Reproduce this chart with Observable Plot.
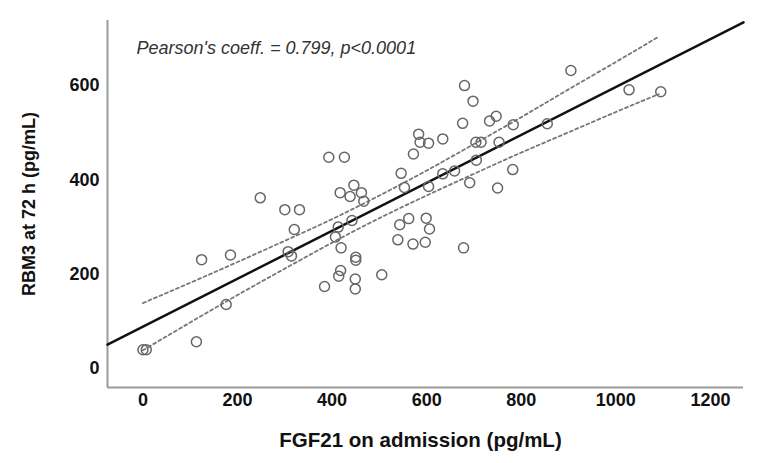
<!DOCTYPE html>
<html>
<head>
<meta charset="utf-8">
<script src="https://cdn.jsdelivr.net/npm/d3@7"></script>
<script src="https://cdn.jsdelivr.net/npm/@observablehq/plot@0.6"></script>
<style>
  html, body { margin: 0; padding: 0; background: #fff; }
</style>
</head>
<body>
<div id="chart"></div>
<script>
// Scatter data: FGF21 on admission (x) vs RBM3 at 72 h (y)
const fgf21 = [0, 7, 113, 176, 124, 185, 248, 300, 331, 320, 307, 314, 393, 426, 417, 438, 446, 462, 467, 413,
  442, 407, 419, 450, 450, 418, 414, 384, 449, 449, 505, 546, 553, 572, 583, 586, 604, 634, 543, 562,
  599, 606, 539, 571, 597, 678, 604, 634, 659, 691, 705, 704, 715, 753, 750, 782, 676, 680, 698, 733,
  747, 783, 855, 905, 1028, 1095];
const rbm3 = [40, 40, 57, 136, 231, 241, 362, 337, 337, 295, 248, 239, 448, 448, 373, 365, 389, 373, 355, 300,
  314, 279, 256, 236, 230, 208, 196, 174, 190, 169, 199, 414, 384, 455, 497, 480, 478, 487, 305, 318,
  319, 296, 273, 264, 268, 256, 386, 413, 419, 394, 442, 480, 480, 480, 383, 422, 520, 600, 567, 525,
  535, 517, 519, 632, 591, 587];

// Fit line endpoints (across the axis extent)
const fitX = [-75, 1270];
const fitY = [51, 734];

// Confidence band edges (dashed)
const ciX = [0, 100, 200, 300, 400, 500, 600, 700, 800, 900, 1000, 1091];
const ciUpper = [139, 182, 226, 271, 317, 367, 420, 476, 533, 592, 650, 704];
const ciLower = [39, 98, 156, 212, 267, 319, 367, 413, 458, 501, 544, 582];

const xTicks = [0, 200, 400, 600, 800, 1000, 1200];
const yTicks = [0, 200, 400, 600];
const xDomain = [-75, 1270];
const yDomain = [-40, 738];

const xTitle = "FGF21 on admission (pg/mL)";
const yTitle = "RBM3 at 72 h (pg/mL)";
const note = "Pearson's coeff. = 0.799, p<0.0001";

const points = fgf21.map((x, i) => ({x, y: rbm3[i]}));
const fit = fitX.map((x, i) => ({x, y: fitY[i]}));
const upper = ciX.map((x, i) => ({x, y: ciUpper[i]}));
const lower = ciX.map((x, i) => ({x, y: ciLower[i]}));

const chart = Plot.plot({
  width: 768,
  height: 463,
  marginLeft: 107,
  marginRight: 25,
  marginTop: 20,
  marginBottom: 76,
  style: {
    fontFamily: "'Liberation Sans', Arial, Helvetica, sans-serif",
    fontSize: "18px",
    fontWeight: "bold",
    color: "#111",
    background: "#fff"
  },
  x: {domain: xDomain},
  y: {domain: yDomain},
  marks: [
    Plot.axisX(xTicks, {
      tickSize: 0, tickPadding: 6, tickFormat: d => String(d), label: null
    }),
    Plot.axisY(yTicks, {
      tickSize: 0, tickPadding: 8, tickFormat: d => String(d),
      label: yTitle, labelAnchor: "center", labelOffset: 85, labelArrow: false
    }),
    Plot.text([xTitle], {
      text: d => d, frameAnchor: "bottom", dx: -5, dy: 53, lineAnchor: "middle",
      fontSize: 20.5, fontWeight: "bold", fill: "#111"
    }),
    Plot.ruleX([xDomain[0]], {stroke: "#9a9a9a", strokeWidth: 2}),
    Plot.ruleY([yDomain[0]], {stroke: "#9a9a9a", strokeWidth: 2}),
    Plot.line(upper, {x: "x", y: "y", stroke: "#777", strokeWidth: 1.8, strokeDasharray: "3,3", curve: "natural"}),
    Plot.line(lower, {x: "x", y: "y", stroke: "#777", strokeWidth: 1.8, strokeDasharray: "3,3", curve: "natural"}),
    Plot.line(fit, {x: "x", y: "y", stroke: "#111", strokeWidth: 2.5}),
    Plot.dot(points, {x: "x", y: "y", r: 5, stroke: "#666", strokeWidth: 1.5, fill: "none"}),
    Plot.text([note], {
      text: d => d, frameAnchor: "top-left", dx: 29, dy: 21,
      textAnchor: "start", fontStyle: "italic", fontWeight: "normal",
      fontSize: 18, fill: "#333"
    })
  ]
});
document.getElementById("chart").appendChild(chart);
</script>
</body>
</html>
